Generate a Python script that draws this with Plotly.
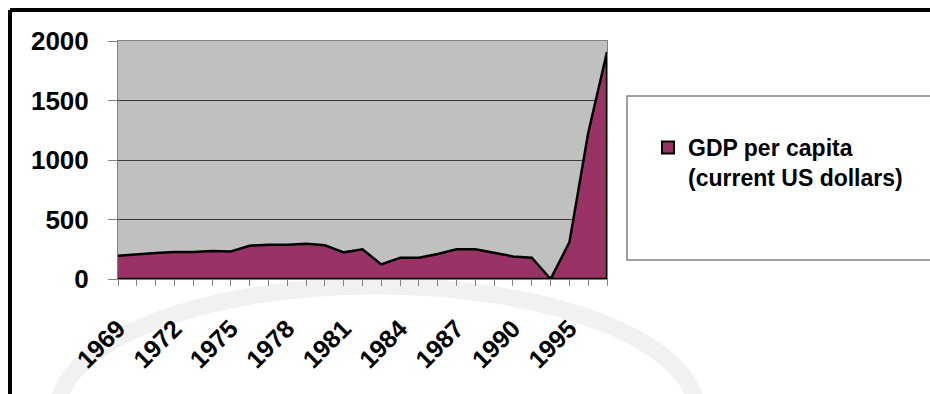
import plotly.graph_objects as go

# ---- data ----
years = [str(y) for y in range(1969, 1991)] + ["1991", "1992", "1995", "1996", "1997"]
gdp_per_capita = [196, 204, 218, 227, 227, 235, 232, 280, 288, 288, 297, 283, 224, 249,
                  123, 179, 179, 210, 249, 249, 218, 190, 179, 0, 308, 1227, 1907]
labelled_years = years[::3]
series_name = "GDP per capita<br>(current US dollars)"

MAROON = "#993366"
FONT = "Liberation Sans"

W, H = 930, 394
L, R, T, B = 118, 607, 41, 279  # plot area in pixels


def px(x):
    return (x - L) / (R - L)


def py(y):
    return (B - y) / (B - T)


fig = go.Figure()

# area polygon closed along the baseline (Excel-style border all around)
fig.add_trace(go.Scatter(
    x=years + [years[-1], years[0]],
    y=gdp_per_capita + [0, 0],
    mode="lines",
    fill="toself",
    fillcolor=MAROON,
    line=dict(color="black", width=2.5),
    showlegend=False,
    hoverinfo="skip",
))

# legend entry with square swatch
fig.add_trace(go.Scatter(
    x=[None], y=[None], mode="markers", name=series_name,
    marker=dict(symbol="square", size=17, color=MAROON, line=dict(color="black", width=2)),
))

shapes = [
    # faint watermark arc
    dict(type="circle", xref="paper", yref="paper", layer="below",
         x0=px(57), x1=px(697), y0=py(540), y1=py(286),
         line=dict(color="#f1f1f1", width=17)),
    # legend box
    dict(type="rect", xref="paper", yref="paper",
         x0=px(627), x1=px(940), y0=py(260), y1=py(96),
         line=dict(color="#808080", width=1.5), fillcolor="white", layer="below"),
    # outer chart frame
    dict(type="line", xref="paper", yref="paper",
         x0=px(10), x1=px(10), y0=py(10), y1=py(400),
         line=dict(color="black", width=4)),
    dict(type="line", xref="paper", yref="paper",
         x0=px(10), x1=px(940), y0=py(10), y1=py(10),
         line=dict(color="black", width=4)),
]

fig.update_layout(
    width=W, height=H, autosize=False,
    margin=dict(l=L, r=W - R, t=T, b=H - B, pad=0, autoexpand=False),
    paper_bgcolor="white",
    plot_bgcolor="#C0C0C0",
    font=dict(family=FONT, color="black"),
    shapes=shapes,
    showlegend=True,
    legend=dict(
        x=px(648), xanchor="left", y=py(126), yanchor="top",
        bgcolor="rgba(0,0,0,0)", borderwidth=0, valign="top",
        font=dict(family=FONT, size=23, color="black", weight="bold"),
        itemsizing="constant",
    ),
    xaxis=dict(
        type="category", automargin=False,
        categoryorder="array", categoryarray=years,
        range=[0, len(years) - 1],
        tickmode="array", tickvals=years,
        ticktext=[y if y in labelled_years else "" for y in years],
        tickangle=-45,
        ticks="outside", ticklen=6, tickcolor="#808080", tickwidth=1,
        ticklabelstandoff=18,
        tickfont=dict(family=FONT, size=25, color="black", weight="bold"),
        showline=True, linecolor="#808080", linewidth=1, mirror=True,
        showgrid=False, zeroline=False,
    ),
    yaxis=dict(
        range=[0, 2000], dtick=500, tick0=0, automargin=False,
        ticks="outside", ticklen=9, tickcolor="#808080", tickwidth=1,
        ticklabelstandoff=14,
        tickfont=dict(family=FONT, size=26, color="black", weight="bold"),
        showline=True, linecolor="#808080", linewidth=1, mirror=True,
        showgrid=True, gridcolor="#3a3a3a", gridwidth=1,
        zeroline=False,
    ),
)

fig.write_html("out.html")
